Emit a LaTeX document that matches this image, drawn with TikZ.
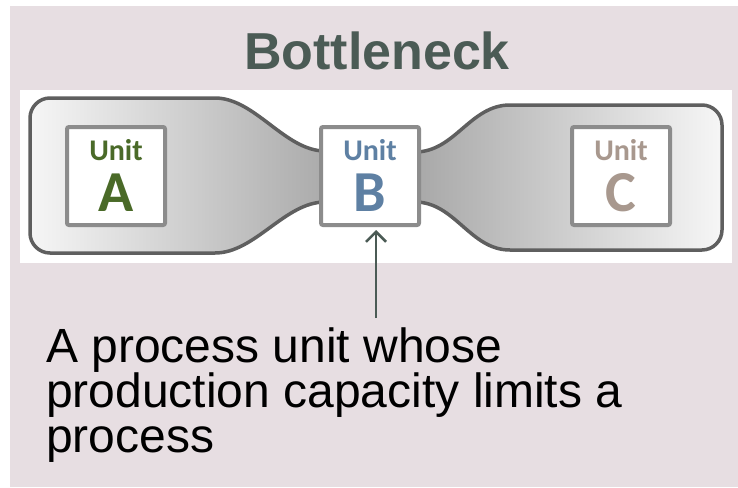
\documentclass[tikz,border=0pt]{standalone}
\usepackage{fontspec}
\setmainfont{Liberation Sans}
\newfontfamily\unitfont{Carlito}
\usetikzlibrary{arrows.meta}
\definecolor{panel}{RGB}{231,222,226}
\definecolor{titlecol}{RGB}{75,91,85}
\definecolor{bottleline}{RGB}{95,95,95}
\definecolor{boxline}{RGB}{140,140,140}
\definecolor{acol}{RGB}{74,106,40}
\definecolor{bcol}{RGB}{94,128,163}
\definecolor{ccol}{RGB}{168,152,142}
\definecolor{lightg}{RGB}{246,246,246}
\definecolor{midg}{RGB}{158,158,158}
\begin{document}
\begin{tikzpicture}[x=1pt,y=-1pt,
  unitbox/.style={draw=boxline,line width=4pt,fill=white,rounded corners=2pt,
    minimum width=98pt,minimum height=98pt,inner sep=0pt},
  unitword/.style={anchor=base,inner sep=0pt,font=\unitfont\bfseries\fontsize{30}{30}\selectfont},
  unitletter/.style={anchor=base,inner sep=0pt,font=\unitfont\bfseries\fontsize{58}{58}\selectfont},
  pointer/.style={draw=titlecol,line width=2.5pt,-{Straight Barb[length=10pt,width=20pt,line width=2.5pt]}}]
\useasboundingbox (0,0) rectangle (738,487);
\fill[white] (0,0) rectangle (738,487);
\fill[panel] (10,6) rectangle (738,487);
\fill[white] (20,90) rectangle (732,263);
% title
\node[anchor=base,inner sep=0pt,text=titlecol,font=\bfseries\fontsize{52}{52}\selectfont] (title) at (377,69) {Bottleneck};
% bottle
\draw[bottleline,line width=3.5pt,left color=lightg,right color=lightg,middle color=midg]
  (50,98) -- (215,98) .. controls (255,98) and (285,151) .. (325,151)
  -- (415,152) .. controls (455,152) and (470,105) .. (510,105)
  -- (702,105) .. controls (713,105) and (722,114) .. (722,125)
  -- (722,230) .. controls (722,241) and (713,250) .. (702,250)
  -- (510,250) .. controls (470,250) and (455,202) .. (415,202)
  -- (325,202) .. controls (285,202) and (255,253) .. (215,253)
  -- (50,253) .. controls (39,253) and (30,244) .. (30,233)
  -- (30,118) .. controls (30,107) and (39,98) .. (50,98) -- cycle;
% unit boxes
\node[unitbox] (boxA) at (116,176) {};
\node[unitbox] (boxB) at (370,176) {};
\node[unitbox] (boxC) at (621,176) {};
\node[unitword,text=acol] (uA) at (116,160) {Unit};
\node[unitletter,text=acol] (lA) at (116,211) {A};
\node[unitword,text=bcol] (uB) at (370,160) {Unit};
\node[unitletter,text=bcol] (lB) at (370,211) {B};
\node[unitword,text=ccol] (uC) at (621,160) {Unit};
\node[unitletter,text=ccol] (lC) at (621,211) {C};
% arrow
\coordinate (tail) at (376,318);
\draw[pointer] (tail) -- ([yshift=-3pt]tail |- boxB.south);
% description
\node[anchor=north west,align=left,inner sep=0pt,font=\fontsize{48}{45}\selectfont] (desc) at (46,328)
  {A process unit whose\\production capacity limits a\\process};
\end{tikzpicture}
\end{document}
